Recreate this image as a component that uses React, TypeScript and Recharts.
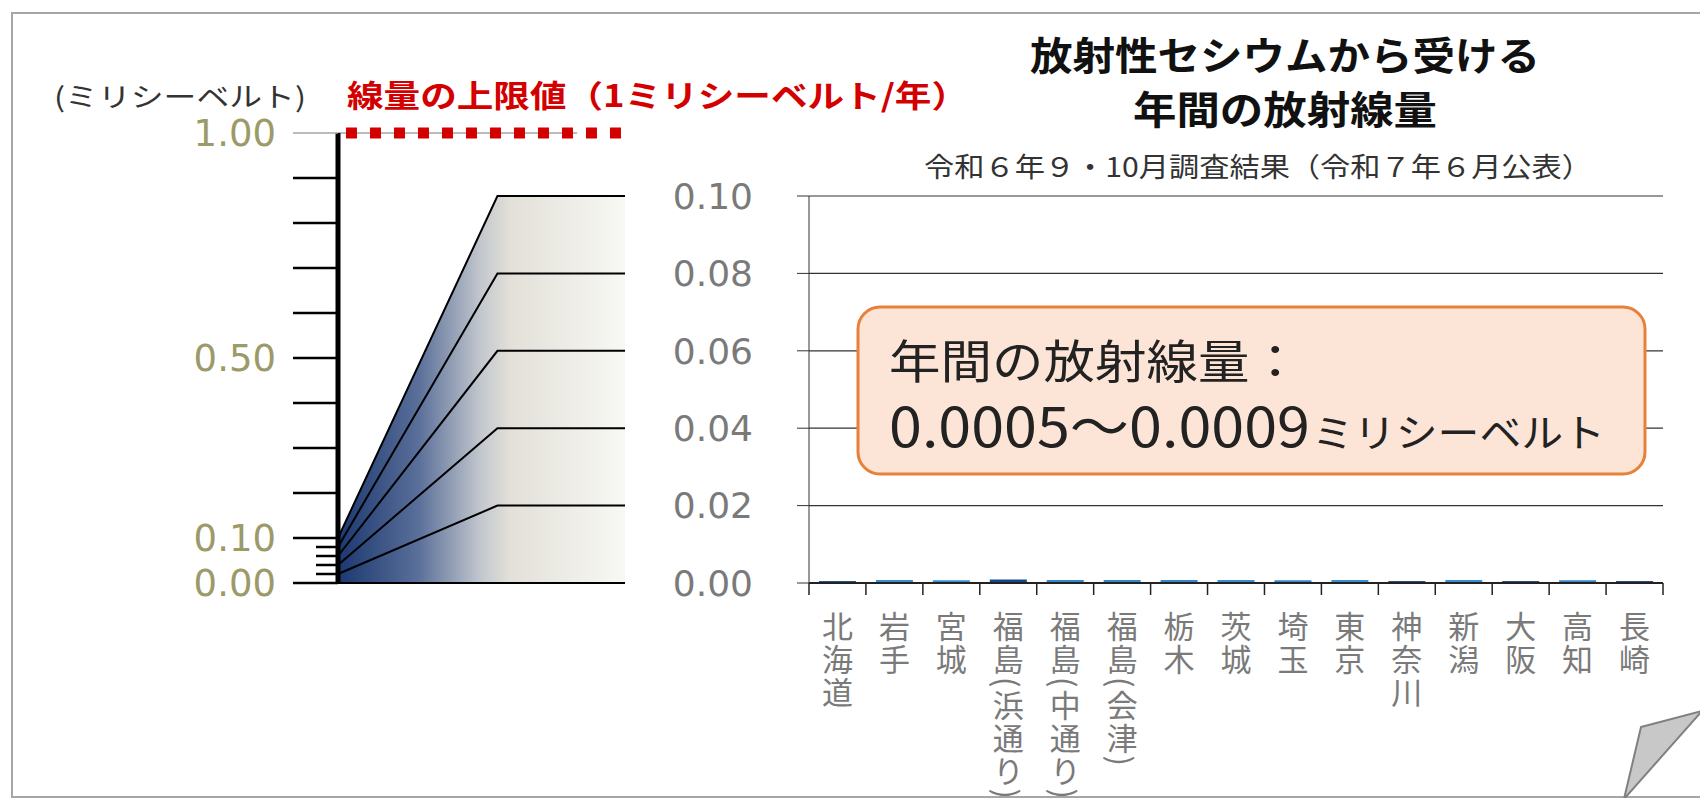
import React from 'react';
import {
  ComposedChart,
  BarChart,
  Bar,
  Cell,
  Line,
  Area,
  XAxis,
  YAxis,
  CartesianGrid,
  ReferenceLine,
} from 'recharts';

// 都道府県別・放射性セシウムから受ける年間の放射線量（ミリシーベルト）
const CATEGORIES = [
  '北海道',
  '岩手',
  '宮城',
  '福島(浜通り)',
  '福島(中通り)',
  '福島(会津)',
  '栃木',
  '茨城',
  '埼玉',
  '東京',
  '神奈川',
  '新潟',
  '大阪',
  '高知',
  '長崎',
];
const DOSES = [
  0.0005, 0.0008, 0.0007, 0.0009, 0.0008, 0.0008, 0.0008, 0.0008, 0.0007, 0.0008, 0.0005,
  0.0008, 0.0005, 0.0007, 0.0005,
];
const BAR_COLORS = [
  '#2b5684', '#3a8fd4', '#3a8fd4', '#13498a', '#3586cc', '#3586cc', '#3586cc', '#3a8fd4',
  '#3586cc', '#3a8fd4', '#2b4f78', '#3a8fd4', '#2b4f78', '#3586cc', '#2b4f78',
];

// left scale (0 - 1 mSv) and right scale (0 - 0.1 mSv)
const LEFT_TICKS = [0, 0.02, 0.04, 0.06, 0.08, 0.1, 0.2, 0.3, 0.4, 0.5, 0.6, 0.7, 0.8, 0.9, 1.0];
const LEFT_LABELS = [0, 0.1, 0.5, 1.0];
const RIGHT_TICKS = [0, 0.02, 0.04, 0.06, 0.08, 0.1];
const LIMIT = 1.0;

// the fan joins the same value on both scales
const FAN_LEVELS = [0, 0.02, 0.04, 0.06, 0.08, 0.1];
const FAN_X = [0, 1, 1.8];

// chart geometry
const W = 1700;
const H = 798;
const BASE_Y = 583;
const LEFT_TOP = 133;
const RIGHT_TOP = 196;
const LEFT_AXIS_X = 338;
const LEFT_W = 700;
const LEFT_RIGHT_MARGIN = 75;
const RIGHT_AXIS_X = 809;
const RIGHT_END_MARGIN = 37;

const LEFT_MAX = 1;
const RIGHT_MAX = 0.1;
const SCALE_RATIO =
  ((BASE_Y - RIGHT_TOP) / RIGHT_MAX) / ((BASE_Y - LEFT_TOP) / LEFT_MAX);
const BAND = (W - RIGHT_END_MARGIN - RIGHT_AXIS_X) / CATEGORIES.length;

const fanData = FAN_X.map((x, i) => {
  const row: Record<string, number> = { x };
  FAN_LEVELS.forEach((v, k) => {
    row['l' + k] = i === 0 ? v : v * SCALE_RATIO;
  });
  return row;
});

const barData = CATEGORIES.map((name, i) => ({ name, value: DOSES[i] }));

const JP = '"Noto Sans CJK JP", "Noto Sans", sans-serif';
const NUM = '"DejaVu Sans", sans-serif';

const LeftTick = (props: any) => {
  const { x, y, payload } = props;
  const v: number = payload.value;
  const major = v === 0 || v >= 0.1 - 1e-9;
  const len = major ? 45 : 22;
  const isLimit = Math.abs(v - LIMIT) < 1e-9;
  const label = LEFT_LABELS.some((l) => Math.abs(l - v) < 1e-9);
  return (
    <g>
      <line
        x1={x - len}
        x2={x}
        y1={y}
        y2={y}
        stroke={isLimit ? '#a6a6a6' : '#000'}
        strokeWidth={isLimit ? 1.5 : 2.5}
      />
      {label && (
        <text
          x={x - 62}
          y={y}
          dy="0.36em"
          textAnchor="end"
          fill="#9c9a68"
          fontSize={37}
          fontFamily={NUM}
        >
          {v.toFixed(2)}
        </text>
      )}
    </g>
  );
};

const CategoryTick = (props: any) => {
  const { x, y, payload, index } = props;
  const last = index === CATEGORIES.length - 1;
  return (
    <g>
      <line x1={x - BAND / 2} x2={x - BAND / 2} y1={y} y2={y + 12} stroke="#222" strokeWidth={1.5} />
      {last && (
        <line x1={x + BAND / 2} x2={x + BAND / 2} y1={y} y2={y + 12} stroke="#222" strokeWidth={1.5} />
      )}
      <text
        x={x}
        y={y + 28}
        fill="#7a7a7a"
        fontSize={31}
        letterSpacing={2}
        fontFamily={JP}
        style={{ writingMode: 'vertical-rl' }}
      >
        {payload.value}
      </text>
    </g>
  );
};

const FanChart = () => (
  <ComposedChart
    width={LEFT_W}
    height={H}
    data={fanData}
    margin={{ top: LEFT_TOP, right: LEFT_RIGHT_MARGIN, bottom: H - BASE_Y, left: 0 }}
  >
    <defs>
      <linearGradient id="fanGrad" x1="0" y1="0" x2="1" y2="0">
        <stop offset="0%" stopColor="#1b3870" />
        <stop offset="28%" stopColor="#5a6f99" />
        <stop offset="50%" stopColor="#c4c8ce" />
        <stop offset="60%" stopColor="#e2e0d8" />
        <stop offset="100%" stopColor="#f8f8f4" />
      </linearGradient>
    </defs>
    <XAxis type="number" dataKey="x" domain={[0, FAN_X[FAN_X.length - 1]]} hide />
    <YAxis
      type="number"
      domain={[0, LEFT_MAX]}
      ticks={LEFT_TICKS}
      interval={0}
      width={LEFT_AXIS_X}
      axisLine={{ stroke: '#000', strokeWidth: 5 }}
      tickLine={false}
      tickSize={0}
      tickMargin={0}
      tick={<LeftTick />}
    />
    <Area
      type="linear"
      dataKey={'l' + (FAN_LEVELS.length - 1)}
      stroke="none"
      fill="url(#fanGrad)"
      fillOpacity={1}
      baseValue={0}
      isAnimationActive={false}
    />
    {FAN_LEVELS.map((_, k) => (
      <Line
        key={k}
        type="linear"
        dataKey={'l' + k}
        stroke="#000"
        strokeWidth={2}
        dot={false}
        activeDot={false}
        isAnimationActive={false}
      />
    ))}
    <ReferenceLine
      segment={[
        { x: 0, y: LIMIT },
        { x: 1.5, y: LIMIT },
      ]}
      stroke="#a6a6a6"
      strokeWidth={1.5}
    />
    <ReferenceLine
      segment={[
        { x: 0.05, y: LIMIT },
        { x: FAN_X[FAN_X.length - 1], y: LIMIT },
      ]}
      stroke="#d40000"
      strokeWidth={11}
      strokeDasharray="11 13"
    />
  </ComposedChart>
);

const DoseChart = () => (
  <BarChart
    width={W}
    height={H}
    data={barData}
    margin={{ top: RIGHT_TOP, right: RIGHT_END_MARGIN, bottom: 0, left: 0 }}
  >
    <CartesianGrid vertical={false} stroke="#333" strokeWidth={1.2} />
    <XAxis
      dataKey="name"
      height={H - BASE_Y}
      interval={0}
      tickLine={false}
      tickSize={0}
      tickMargin={0}
      axisLine={{ stroke: '#222', strokeWidth: 2 }}
      tick={<CategoryTick />}
    />
    <YAxis
      type="number"
      domain={[0, RIGHT_MAX]}
      ticks={RIGHT_TICKS}
      interval={0}
      width={RIGHT_AXIS_X}
      tickFormatter={(v: number) => v.toFixed(2)}
      tick={{ fill: '#7a7a7a', fontSize: 36, fontFamily: NUM }}
      tickSize={12}
      tickMargin={44}
      tickLine={{ stroke: '#333' }}
      axisLine={{ stroke: '#333' }}
    />
    <Bar dataKey="value" barSize={37} isAnimationActive={false}>
      {barData.map((_, i) => (
        <Cell key={i} fill={BAR_COLORS[i]} />
      ))}
    </Bar>
  </BarChart>
);

const Overlay = () => (
  <svg width={W} height={H} style={{ position: 'absolute', left: 0, top: 0 }}>
    <path d="M1720,13 H12 V797 H1720" fill="none" stroke="#a6a6a6" strokeWidth={2} />
    <text x={54} y={95} dominantBaseline="central" fontSize={27} fontFamily={JP} fill="#333" textLength={252} lengthAdjust="spacingAndGlyphs">
      (ミリシーベルト)
    </text>
    <text x={347} y={93} dominantBaseline="central" fontSize={31} fontWeight={700} fontFamily={JP} fill="#d40000" textLength={621} lengthAdjust="spacingAndGlyphs">
      線量の上限値（1ミリシーベルト/年）
    </text>
    <text x={1030} y={53} dominantBaseline="central" fontSize={39} fontWeight={700} fontFamily={JP} fill="#111" textLength={510} lengthAdjust="spacingAndGlyphs">
      放射性セシウムから受ける
    </text>
    <text x={1133} y={107} dominantBaseline="central" fontSize={39} fontWeight={700} fontFamily={JP} fill="#111" textLength={304} lengthAdjust="spacingAndGlyphs">
      年間の放射線量
    </text>
    <text x={924} y={165} dominantBaseline="central" fontSize={27} fontFamily={JP} fill="#333" textLength={668} lengthAdjust="spacingAndGlyphs">
      令和６年９・10月調査結果（令和７年６月公表）
    </text>
    <rect x={858} y={307} width={787} height={167} rx={22} fill="#fce4d6" stroke="#e8803a" strokeWidth={3} />
    <text x={889} y={358} dominantBaseline="central" fontSize={46} fontFamily={JP} fill="#222" textLength={412} lengthAdjust="spacingAndGlyphs">
      年間の放射線量：
    </text>
    <text x={889} y={447} fontSize={54} fontFamily={JP} fill="#222" textLength={421} lengthAdjust="spacingAndGlyphs">
      0.0005～0.0009
    </text>
    <text x={1312} y={447} fontSize={39} fontFamily={JP} fill="#222" textLength={293} lengthAdjust="spacingAndGlyphs">
      ミリシーベルト
    </text>
    <polygon points="1641,727 1702,711 1624,799" fill="#c8c8c8" stroke="#808080" strokeWidth={2} />
  </svg>
);

export default function App() {
  return (
    <div style={{ position: 'absolute', left: 0, top: 0, width: W, height: H, background: '#fff', overflow: 'hidden' }}>
      <div style={{ position: 'absolute', left: 0, top: 0 }}>
        <FanChart />
      </div>
      <div style={{ position: 'absolute', left: 0, top: 0 }}>
        <DoseChart />
      </div>
      <Overlay />
    </div>
  );
}
